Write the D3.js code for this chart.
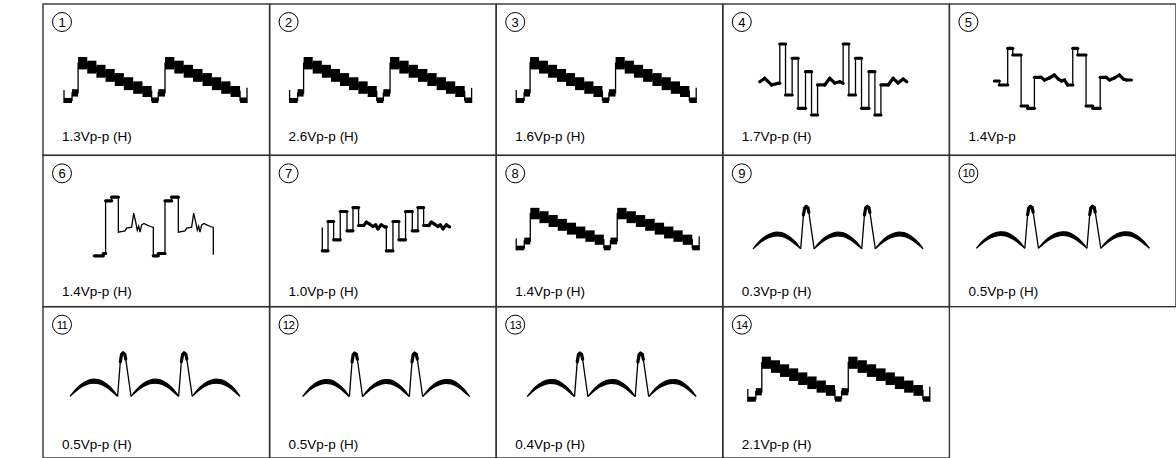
<!DOCTYPE html>
<html><head><meta charset="utf-8">
<script src="https://cdn.jsdelivr.net/npm/d3@7"></script>
<style>body{margin:0;background:#fff}svg{display:block}</style>
</head><body>
<script>
// ---------------- DATA ----------------
const panelNumbers = [1,2,3,4,5,6,7,8,9,10,11,12,13,14];
const panelLabels = ["1.3Vp-p (H)","2.6Vp-p (H)","1.6Vp-p (H)","1.7Vp-p (H)","1.4Vp-p",
  "1.4Vp-p (H)","1.0Vp-p (H)","1.4Vp-p (H)","0.3Vp-p (H)","0.5Vp-p (H)",
  "0.5Vp-p (H)","0.5Vp-p (H)","0.4Vp-p (H)","2.1Vp-p (H)"];
const panelShapes = ["stair","stair","stair","burst","pulse","spike","comb","stair",
  "arch","arch","arch","arch","arch","stair"];

// staircase with chroma (time 0-100, level 0-100)
const stairStart = [0,4.4,7.7,12.7,17.7,22.7,27.7,32.7,37.8,42.9,47.9,51.5,55.2,60.3,65.4,70.5,75.7,80.8,85.9,91.0,96.2];
const stairHigh  = [11,30,100,92,83,74,65,56,47,37,12,30,100,92,83,74,65,56,47,37,12];
const stairLow   = [0,14,73,64,55,46,37,28,20,13,0,14,73,64,55,46,37,28,20,13,0];
const stairEdges = [28,33]; // level reached by the left / right end ticks

// multiburst (panel 4)
const burstTrace = [[0,46.9],[3.4,51.7],[8.0,42.3],[12.2,44.6],[13.6,44.6],[13.6,100],[17.5,100],[17.5,28.2],[22.0,28.2],
  [22.0,79.9],[26.1,79.9],[26.1,9.4],[31.1,9.4],[31.1,61.0],[35.2,61.0],[35.2,0],[39.3,0],[39.3,42.3],[44.2,42.3],
  [47.6,51.7],[51.0,45.1],[54.4,46.9],[56.7,44.6],[56.7,100],[60.6,100],[60.6,28.2],[65.1,28.2],[65.1,79.9],[69.2,79.9],
  [69.2,9.4],[74.2,9.4],[74.2,61],[78.3,61],[78.3,0],[82.4,0],[82.4,42.3],[87.3,42.3],[90.7,51.7],[94.1,45.1],[97.5,50.7],[100,46.9]];
const burstDense = [[0,13.6],[39.3,56.7],[82.4,100]];

// pulse (panel 5)
const pulseTrace = [[0,45.5],[3.6,45.5],[3.6,38.8],[9.7,38.8],[9.7,100],[13.4,100],[13.4,88.8],[19.5,88.8],[19.5,3.8],
  [24.3,3.8],[24.3,0],[29.2,0],[29.2,51.7],[34.1,51.7],[36.5,47.2],[40.1,50.5],[43.8,55.5],[46.7,48.8],[48.9,45.5],
  [51.1,47.2],[53.5,38.8],[57.2,38.8],[57.2,100],[60.8,100],[60.8,88.8],[66.9,88.8],[66.9,3.8],[71.8,3.8],[71.8,0],
  [77.2,0],[77.2,51.7],[81.5,51.7],[84,47.2],[87.6,50.5],[91.2,55.5],[94.2,48.8],[96.4,47.2],[100,47.2]];
const pulseDense = [[29.2,53.5],[77.2,100]];

// pulse with ringing (panel 6)
const spikeTrace = [[0,1.7],[7.6,1.7],[7.6,5.6],[9.5,5.6],[9.5,93.9],[14.6,93.9],[14.6,100],[20.2,100],[20.2,41.3],
  [25.8,43.6],[27.2,48.0],[31.4,49.7],[33.1,73.2],[35.0,56.4],[36.1,44.7],[37.3,51.4],[38.4,41.3],[39.8,53.6],
  [41.7,55.9],[44.0,53.6],[47.3,50.8],[49.6,49.2],[49.6,1.7],[53.8,1.7],[53.8,5.6],[59.4,5.6],[59.4,93.9],[65.0,93.9],
  [65.0,100],[70.6,100],[70.6,41.3],[76.2,43.6],[77.6,48.0],[81.8,49.7],[83.5,73.2],[85.4,56.4],[86.6,44.7],
  [87.7,51.4],[88.8,41.3],[90.2,53.6],[92.2,55.9],[94.4,53.6],[97.8,50.8],[100,49.2],[100,3.4]];
const spikeDense = [];

// pulse comb (panel 7)
const combTrace = [[0,53.8],[0,0],[4.5,0],[4.5,67.7],[8.9,67.7],[8.9,25.4],[14.1,25.4],[14.1,90.8],[19.4,90.8],
  [19.4,46.2],[24.1,46.2],[24.1,100],[28.5,100],[28.5,58.5],[32.5,58.5],[34.6,66.2],[37.2,61.5],[39.8,56.2],
  [41.9,60],[43.7,50.8],[46.3,60],[49.0,55.4],[50.3,55.4],[50.3,0],[55.5,0],[55.5,67.7],[60.2,67.7],[60.2,25.4],
  [65.4,25.4],[65.4,90.8],[70.7,90.8],[70.7,46.2],[75.1,46.2],[75.1,100],[79.6,100],[79.6,58.5],[83.8,58.5],
  [85.6,66.2],[88.2,61.5],[90.8,56.2],[92.7,60],[94.8,50.8],[97.4,60],[100,55.4]];
const combDense = [[28.5,50.3],[79.6,100]];

// arches with sync peaks (panels 9-13)
const archTimes = [[0,2.8,7,11.2,14,16.8,21,25.2,28],
                   [35.9,38.7,42.9,47.1,49.9,52.7,56.9,61.1,63.9],
                   [71.9,74.7,78.9,83.1,85.9,88.8,93.0,97.2,100]];
const archUpper = [0,14,29,37.5,39.5,38.5,30,15,0];
const archLower = [0,10,22,29,30.5,29.5,22,9.5,0];
const peakTrace = [[28.0,0],[29.6,80],[30.3,96],[31.2,100],[32.2,97],[32.8,86],[35.9,0],[null,null],
                   [63.9,0],[65.5,80],[66.2,96],[67.1,100],[68.1,97],[68.7,86],[71.9,0]];
const peakDense = [[29.6,32.8],[65.5,68.7]];

// ---------------- LAYOUT ----------------
const W = 1176, H = 458;
const colX = d3.scaleLinear().domain([0,5]).range([43,1176]);
const rowY = d3.scaleLinear().domain([0,3]).range([4,458]);
const labelBase = [140.5, 296, 449];
// waveform box inside each cell: [x0, x1, yTop, yBottom]
const waveBox = [[21,204,53,99],[20,202,53,99],[20,200,53,99],[37,184,40,111],[45,182,44.3,104.3],
  [51.3,170.3,41.8,101.5],[52.7,180,52.2,95.5],[20,203,52.5,95],[30.3,200.3,51.2,93.5],[27,200,51,93],
  [27,197,46.3,89.7],[33,200,46.5,90],[31,200,46.5,90],[25,207,50,95]];

const svg = d3.select("body").append("svg").attr("width",W).attr("height",H);
const FONT = "'Liberation Sans', Arial, Helvetica, sans-serif";

function drawTrace(g, pts, dense, xs, ys){
  const line = d3.line().defined(d=>d[0]!==null).x(d=>xs(d[0])).y(d=>ys(d[1]));
  g.append("path").attr("d",line(pts)).attr("fill","none").attr("stroke","#000")
    .attr("stroke-width",1.3).attr("stroke-linejoin","miter");
  const segs=[];
  for(let i=0;i<pts.length-1;i++){
    const a=pts[i], b=pts[i+1];
    if(a[0]===null||b[0]===null||b[0]<=a[0]) continue;
    const flat = a[1]===b[1];
    const inDense = dense.some(r=>a[0]>=r[0]&&b[0]<=r[1]);
    if(flat||inDense) segs.push([a,b]);
  }
  g.selectAll(null).data(segs).enter().append("path").attr("d",s=>line(s))
    .attr("fill","none").attr("stroke","#000").attr("stroke-width",3.2).attr("stroke-linecap","round");
}

function drawStair(g, xs, ys){
  const blocks = stairStart.map((s,i)=>({t0:s,t1:i<stairStart.length-1?stairStart[i+1]:100,hi:stairHigh[i],lo:stairLow[i]}));
  const mids = blocks.map(b=>[b.t0,(b.hi+b.lo)/2]); mids.push([100,mids[mids.length-1][1]]);
  g.append("path").attr("d",d3.line().curve(d3.curveStepAfter).x(d=>xs(d[0])).y(d=>ys(d[1]))(mids))
    .attr("fill","none").attr("stroke","#000").attr("stroke-width",1.3);
  g.selectAll(null).data(blocks).enter().append("rect")
    .attr("x",b=>xs(b.t0)).attr("width",b=>xs(b.t1)-xs(b.t0))
    .attr("y",b=>ys(b.hi)).attr("height",b=>ys(b.lo)-ys(b.hi)).attr("fill","#000");
  g.append("line").attr("x1",xs(0)).attr("x2",xs(0)).attr("y1",ys(0)).attr("y2",ys(stairEdges[0]))
    .attr("stroke","#000").attr("stroke-width",1.3);
  g.append("line").attr("x1",xs(100)).attr("x2",xs(100)).attr("y1",ys(0)).attr("y2",ys(stairEdges[1]))
    .attr("stroke","#000").attr("stroke-width",1.3);
}

function drawArch(g, xs, ys){
  const area = d3.area().curve(d3.curveMonotoneX).x(d=>xs(d.t)).y0(d=>ys(d.lo)).y1(d=>ys(d.hi));
  archTimes.forEach(ts=>{
    const pts = ts.map((t,j)=>({t:t,hi:archUpper[j],lo:archLower[j]}));
    g.append("path").attr("d",area(pts)).attr("fill","#000").attr("stroke","#000").attr("stroke-width",1.2);
  });
  drawTrace(g, peakTrace, peakDense, xs, ys);
}

panelNumbers.forEach((num,i)=>{
  const c=i%5, r=Math.floor(i/5);
  const cx=colX(c), cy=rowY(r), cw=colX(c+1)-colX(c), ch=rowY(r+1)-rowY(r);
  const g = svg.append("g");
  g.append("rect").attr("x",cx).attr("y",cy).attr("width",cw).attr("height",ch)
    .attr("fill","none").attr("stroke","#333").attr("stroke-width",1.4);
  // circled number
  g.append("circle").attr("cx",cx+19).attr("cy",cy+18).attr("r",9.5)
    .attr("fill","none").attr("stroke","#000").attr("stroke-width",1);
  g.append("text").attr("x",cx+19).attr("y",cy+18).attr("dy","0.36em").attr("text-anchor","middle")
    .attr("font-family",FONT).attr("font-size",num>9?11.5:13).attr("letter-spacing",num>9?-0.6:0)
    .text(num);
  // label
  g.append("text").attr("x",cx+19).attr("y",labelBase[r]).attr("font-family",FONT).attr("font-size",13.5)
    .attr("fill","#000").text(panelLabels[i]);
  // waveform
  const b = waveBox[i];
  const xs = d3.scaleLinear().domain([0,100]).range([cx+b[0],cx+b[1]]);
  const ys = d3.scaleLinear().domain([0,100]).range([cy+b[3],cy+b[2]]);
  const wg = g.append("g");
  const s = panelShapes[i];
  if(s==="stair") drawStair(wg,xs,ys);
  else if(s==="arch") drawArch(wg,xs,ys);
  else if(s==="burst") drawTrace(wg,burstTrace,burstDense,xs,ys);
  else if(s==="pulse") drawTrace(wg,pulseTrace,pulseDense,xs,ys);
  else if(s==="spike") drawTrace(wg,spikeTrace,spikeDense,xs,ys);
  else if(s==="comb") drawTrace(wg,combTrace,combDense,xs,ys);
});
</script>
</body></html>
